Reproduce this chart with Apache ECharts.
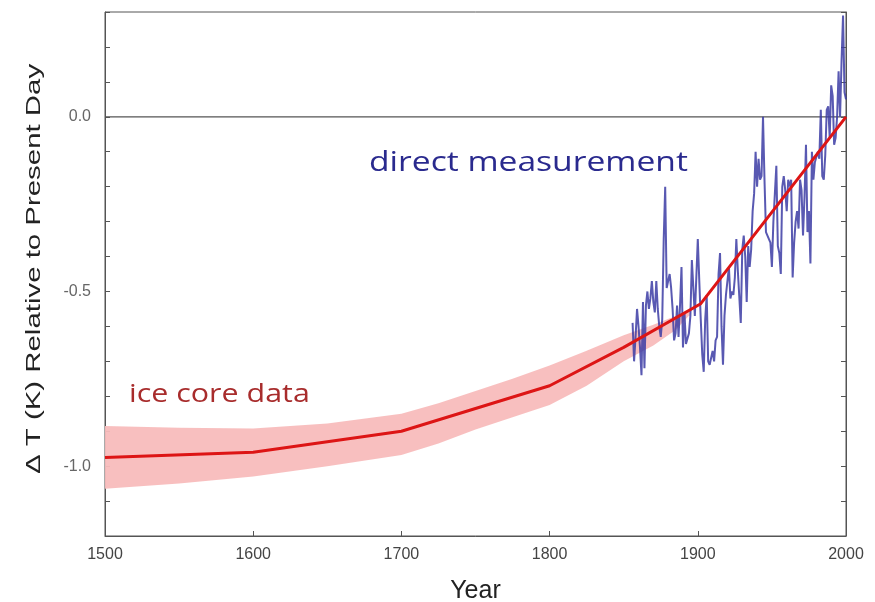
<!DOCTYPE html>
<html><head><meta charset="utf-8">
<script src="https://cdn.jsdelivr.net/npm/echarts@6/dist/echarts.min.js"></script>
<style>html,body{margin:0;padding:0;background:#fff}#c{width:875px;height:602px}</style>
</head><body><div id="c"></div>
<script>
// Ice core reconstruction (red line)
const iceYears = [1500, 1600, 1700, 1800, 1850, 1902, 2000];
const iceValues = [-0.975, -0.96, -0.90, -0.77, -0.66, -0.535, 0.0];
// Uncertainty band (pink)
const bandYears = [1500, 1550, 1600, 1650, 1700, 1725, 1750, 1775, 1800, 1825, 1850, 1870, 1885, 1895];
const bandUpper = [-0.885, -0.89, -0.892, -0.878, -0.85, -0.82, -0.785, -0.75, -0.712, -0.67, -0.625, -0.595, -0.57, -0.55];
const bandLower = [-1.065, -1.05, -1.03, -1.00, -0.968, -0.935, -0.895, -0.86, -0.825, -0.77, -0.70, -0.655, -0.61, -0.565];
// Direct measurement (blue line), 1856-2000
const directStart = 1856;
const directValues = [
 -0.59,-0.70,-0.63,-0.55,-0.60,-0.66,-0.74,-0.53,-0.72,-0.54,
 -0.50,-0.55,-0.52,-0.47,-0.53,-0.56,-0.47,-0.55,-0.60,-0.63,
 -0.58,-0.35,-0.20,-0.49,-0.49,-0.45,-0.49,-0.55,-0.64,-0.62,
 -0.54,-0.63,-0.54,-0.43,-0.66,-0.56,-0.65,-0.65,-0.62,-0.57,
 -0.41,-0.41,-0.57,-0.46,-0.35,-0.47,-0.58,-0.68,-0.73,-0.58,
 -0.51,-0.70,-0.71,-0.71,-0.67,-0.70,-0.64,-0.63,-0.45,-0.39,
 -0.60,-0.71,-0.57,-0.51,-0.51,-0.43,-0.52,-0.50,-0.51,-0.46,
 -0.35,-0.44,-0.44,-0.59,-0.38,-0.34,-0.40,-0.53,-0.37,-0.43,
 -0.38,-0.27,-0.22,-0.10,-0.20,-0.12,-0.18,-0.17,0.00,-0.18,
 -0.33,-0.34,-0.35,-0.36,-0.43,-0.30,-0.22,-0.14,-0.37,-0.39,
 -0.45,-0.20,-0.17,-0.21,-0.27,-0.18,-0.20,-0.18,-0.46,-0.36,
 -0.30,-0.27,-0.32,-0.18,-0.21,-0.34,-0.23,-0.08,-0.33,-0.27,
 -0.42,-0.10,-0.18,-0.13,-0.13,-0.10,-0.12,0.02,-0.17,-0.18,
 -0.11,0.02,0.03,-0.06,0.09,0.06,-0.08,-0.06,0.00,0.13,
 0.00,0.16,0.29,0.07,0.05
];
const xTicks = [1500, 1600, 1700, 1800, 1900, 2000];
const yLabelTicks = [0.0, -0.5, -1.0];

const iceData = iceYears.map((y, i) => [y, iceValues[i]]);
const directData = directValues.map((v, i) => [directStart + i, v]);

const chart = echarts.init(document.getElementById('c'));
const axisCol = '#555';
chart.setOption({
  animation: false,
  grid: { left: 105, right: 29, top: 12, bottom: 66, show: true, borderColor: axisCol, borderWidth: 1,
    containLabel: false, outerBoundsMode: 'none' },
  xAxis: {
    type: 'value', min: 1500, max: 2000, interval: 100,
    axisLine: { onZero: false, lineStyle: { color: axisCol } },
    axisTick: { inside: true, length: 5, lineStyle: { color: axisCol } },
    axisLabel: { color: '#444', fontSize: 16, fontFamily: 'Liberation Sans', margin: 11,
      formatter: v => xTicks.includes(v) ? String(v) : '' },
    splitLine: { show: false },
    name: 'Year', nameLocation: 'middle', nameGap: 43,
    nameTextStyle: { color: '#222', fontSize: 25, fontFamily: 'Liberation Sans' }
  },
  yAxis: [{
    type: 'value', min: -1.2, max: 0.3, interval: 0.1,
    axisLine: { onZero: false, lineStyle: { color: axisCol } },
    axisTick: { inside: true, length: 5, lineStyle: { color: axisCol } },
    axisLabel: { color: '#666', fontSize: 16, fontFamily: 'Liberation Sans', margin: 14,
      formatter: v => { const r = Math.round(v * 10) / 10; return yLabelTicks.some(t => Math.abs(t - r) < 1e-6) ? r.toFixed(1) : ''; } },
    splitLine: { show: false }
  }, {
    type: 'value', position: 'right', min: -1.2, max: 0.3, interval: 0.1,
    axisLine: { show: true, onZero: false, lineStyle: { color: axisCol } },
    axisTick: { inside: true, length: 5, lineStyle: { color: axisCol } },
    axisLabel: { show: false }, splitLine: { show: false }
  }],
  series: [
    {
      type: 'custom', silent: true, z: 1,
      data: [0],
      renderItem: (params, api) => {
        const pts = [];
        bandYears.forEach((y, i) => pts.push(api.coord([y, bandUpper[i]])));
        for (let i = bandYears.length - 1; i >= 0; i--) pts.push(api.coord([bandYears[i], bandLower[i]]));
        return { type: 'polygon', shape: { points: pts }, style: { fill: '#f8bcbc', opacity: 0.95 } };
      }
    },
    {
      type: 'line', data: [[1500, 0], [2000, 0]], symbol: 'none', z: 2, silent: true,
      lineStyle: { color: '#555', width: 1.2 }
    },
    {
      type: 'line', data: directData, symbol: 'none', z: 3, clip: true,
      lineStyle: { color: '#3c3ca4', width: 2, opacity: 0.85 }
    },
    {
      type: 'line', data: iceData, symbol: 'none', z: 4,
      lineStyle: { color: '#dd1515', width: 3 }
    }
  ],
  graphic: [
    { type: 'text', x: 369, y: 149, scaleX: 1.2, style: { text: 'direct measurement', fill: '#2a2a8e', font: '28px "Open Sans"' } },
    { type: 'text', x: 129, y: 382, scaleX: 1.17, style: { text: 'ice core data', fill: '#a82c2c', font: '26px "Open Sans"' } },
    { type: 'text', x: 24, y: 474, rotation: Math.PI / 2, scaleX: 1.40,
      style: { text: 'Δ T (K) Relative to Present Day', fill: '#222', font: '21px "Liberation Sans"' } }
  ]
});
</script></body></html>
